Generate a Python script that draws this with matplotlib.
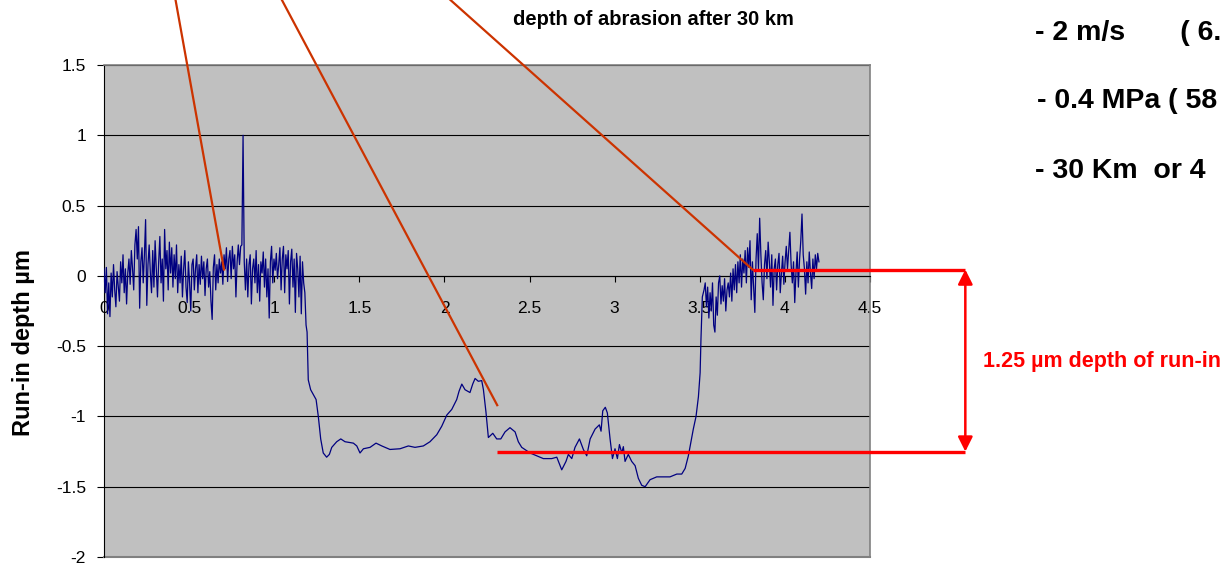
import numpy as np
import matplotlib
matplotlib.use('Agg')
import matplotlib.pyplot as plt

plt.rcParams['font.family'] = ['Liberation Sans', 'DejaVu Sans']

# surface profile, untouched zone before the run-in track (x 0 .. 1.18 mm), in µm
left_y = [0.05, -0.12, 0.06, -0.27, -0.05, -0.29, 0.02, -0.15, 0.08, -0.10,
          -0.22, 0.03, -0.08, -0.18, 0.10, -0.05, 0.15, -0.12, 0.05, -0.20,
          0.02, 0.12, -0.06, 0.18, 0.05, -0.10, 0.22, 0.33, 0.12, 0.35,
          -0.23, 0.10, 0.20, -0.05, 0.15, 0.40, -0.21, 0.08, 0.22, 0.02,
          -0.12, 0.18, -0.08, 0.25, 0.05, -0.15, 0.10, 0.28, -0.05, 0.12,
          -0.18, 0.33, 0.05, 0.18, -0.10, 0.24, 0.02, 0.20, -0.08, 0.15,
          -0.02, 0.22, -0.12, 0.08, -0.05, 0.14, -0.15, 0.05, 0.18, -0.08,
          -0.19, 0.10, -0.05, -0.25, 0.08, 0.12, -0.10, 0.05, 0.15, -0.12,
          0.08, -0.06, 0.14, -0.02, 0.10, -0.14, 0.05, 0.12, -0.08, 0.03,
          -0.18, -0.31, 0.06, 0.15, -0.10, 0.08, -0.05, 0.12, 0.02, 0.10,
          -0.06, 0.15, 0.05, 0.20, -0.04, 0.12, 0.18, -0.02, 0.21, 0.05,
          0.15, -0.15, 0.10, 0.22, 0.08, 0.21, 0.22, 1.00, 0.10, -0.10,
          0.12, -0.15, 0.08, 0.15, -0.20, 0.05, 0.12, -0.05, 0.18, -0.12,
          0.08, -0.18, 0.10, 0.02, 0.17, -0.08, 0.12, -0.15, 0.05, -0.30,
          0.10, 0.21, -0.05, 0.12, 0.04, 0.16, -0.02, 0.08, 0.20, -0.10,
          0.12, 0.21, -0.12, 0.15, 0.05, 0.18, -0.20, 0.10, 0.19, -0.08,
          0.12, -0.26, 0.16, 0.05, -0.15, 0.14, -0.27, 0.10, -0.05, -0.12]
left_start, left_end = 0.0, 1.18

# run-in track
worn_x = [1.187, 1.193, 1.200, 1.214, 1.246, 1.259, 1.273, 1.288, 1.308, 1.324,
          1.338, 1.367, 1.391, 1.416, 1.465, 1.485, 1.504, 1.524, 1.563, 1.598,
          1.632, 1.680, 1.739, 1.788, 1.827, 1.876, 1.915, 1.955, 1.984, 2.014,
          2.043, 2.072, 2.086, 2.102, 2.121, 2.150, 2.166, 2.180, 2.199, 2.219,
          2.229, 2.244, 2.258, 2.284, 2.307, 2.331, 2.356, 2.385, 2.415, 2.434,
          2.454, 2.503, 2.542, 2.581, 2.630, 2.660, 2.689, 2.714, 2.728, 2.748,
          2.767, 2.793, 2.816, 2.836, 2.856, 2.885, 2.910, 2.920, 2.930, 2.945,
          2.957, 2.973, 2.987, 3.002, 3.016, 3.028, 3.042, 3.051, 3.061, 3.080,
          3.100, 3.120, 3.139, 3.159, 3.179, 3.208, 3.247, 3.286, 3.325, 3.365,
          3.394, 3.414, 3.433, 3.447, 3.462, 3.478, 3.492, 3.502, 3.507, 3.515]
worn_y = [-0.35, -0.40, -0.74, -0.81, -0.88, -1.00, -1.16, -1.26, -1.29, -1.27,
          -1.22, -1.18, -1.16, -1.18, -1.19, -1.21, -1.26, -1.23, -1.22, -1.19,
          -1.21, -1.235, -1.23, -1.21, -1.22, -1.21, -1.18, -1.13, -1.07, -0.99,
          -0.95, -0.88, -0.82, -0.77, -0.81, -0.83, -0.77, -0.73, -0.75, -0.745,
          -0.81, -0.97, -1.15, -1.12, -1.16, -1.16, -1.11, -1.08, -1.11, -1.18,
          -1.22, -1.26, -1.28, -1.30, -1.30, -1.29, -1.38, -1.32, -1.27, -1.30,
          -1.22, -1.16, -1.235, -1.28, -1.16, -1.09, -1.06, -1.105, -0.96, -0.935,
          -0.975, -1.16, -1.30, -1.23, -1.30, -1.20, -1.26, -1.215, -1.32, -1.27,
          -1.32, -1.35, -1.44, -1.49, -1.50, -1.45, -1.43, -1.43, -1.43, -1.41,
          -1.41, -1.37, -1.28, -1.19, -1.09, -1.00, -0.86, -0.69, -0.45, -0.15]

# untouched zone after the track (x 3.525 .. 4.20 mm)
right_y = [-0.10, -0.05, -0.22, -0.08, -0.30, -0.12, -0.25, -0.05, -0.35, -0.40,
           -0.15, -0.28, -0.05, 0.00, -0.20, -0.07, -0.18, -0.02, -0.25, -0.10,
           -0.05, -0.15, 0.02, -0.18, 0.05, -0.10, 0.08, -0.12, 0.10, -0.05,
           0.15, -0.08, 0.12, 0.02, 0.18, -0.05, 0.20, 0.06, 0.25, -0.17,
           0.10, -0.08, -0.26, 0.12, 0.30, 0.05, 0.41, 0.15, -0.05, -0.17,
           0.08, 0.18, -0.02, 0.24, 0.10, -0.08, 0.15, -0.21, 0.05, 0.12,
           -0.10, 0.08, 0.16, -0.12, 0.02, 0.14, -0.06, 0.10, 0.21, 0.05,
           0.18, 0.31, 0.08, -0.05, 0.10, -0.19, 0.02, 0.17, -0.08, 0.12,
           0.25, 0.44, 0.15, 0.05, -0.13, 0.10, -0.05, 0.17, 0.02, -0.09,
           0.12, -0.02, 0.15, 0.05, 0.16, 0.10]
right_start, right_end = 3.525, 4.20

x_ticks = [0, 0.5, 1, 1.5, 2, 2.5, 3, 3.5, 4, 4.5]
y_ticks = [-2, -1.5, -1, -0.5, 0, 0.5, 1, 1.5]

# annotation levels (µm) and positions (mm)
level_top = 0.045
level_bottom = -1.25
arrow_x = 5.06
bottom_line_start = 2.31
top_line_start = 3.81
leaders = [((0.42, 1.965), (0.705, 0.045)),
           ((1.044, 1.965), (2.31, -0.92)),
           ((2.033, 1.965), (3.81, 0.045))]

x = np.concatenate([np.linspace(left_start, left_end, len(left_y)),
                    worn_x,
                    np.linspace(right_start, right_end, len(right_y))])
y = np.concatenate([left_y, worn_y, right_y])

fig = plt.figure(figsize=(12.27, 5.65), dpi=100)
ax = fig.add_axes([104 / 1227, 8 / 565, 766 / 1227, 492 / 565])
ax.set_facecolor('#C0C0C0')

ax.plot(x, y, color='#000080', lw=0.9, zorder=3)

ax.set_xlim(0, 4.5)
ax.set_ylim(-2, 1.5)
ax.set_xticks(x_ticks)
ax.set_xticklabels(['0', '0.5', '1', '1.5', '2', '2.5', '3', '3.5', '4', '4.5'])
ax.set_yticks(y_ticks)
ax.set_yticklabels(['-2', '-1.5', '-1', '-0.5', '0', '0.5', '1', '1.5'])
ax.grid(True, axis='y', color='black', lw=0.8)
ax.set_axisbelow(True)

ax.spines['bottom'].set_position(('data', 0))
ax.spines['bottom'].set_color('black')
ax.spines['bottom'].set_linewidth(0.8)
ax.spines['left'].set_color('black')
ax.spines['left'].set_linewidth(0.8)
for s in ['top', 'right']:
    ax.spines[s].set_color('#808080')
    ax.spines[s].set_linewidth(1.2)
ax.axhline(-2, color='#808080', lw=1.5, clip_on=False)

ax.tick_params(axis='x', direction='out', length=4.3, width=0.8, pad=13.5,
               labelsize=12.5, colors='black')
ax.tick_params(axis='y', direction='out', length=5, width=0.8, pad=8,
               labelsize=12.5, colors='black')

# leader lines
for (x0, y0), (x1, y1) in leaders:
    ax.plot([x0, x1], [y0, y1], color='#CC3300', lw=1.6, clip_on=False, zorder=5)

# run-in depth marker
ax.plot([top_line_start, arrow_x], [level_top, level_top], color='#FF0000',
        lw=2.4, clip_on=False, zorder=6, solid_capstyle='butt')
ax.plot([bottom_line_start, arrow_x], [level_bottom, level_bottom], color='#FF0000',
        lw=2.4, clip_on=False, zorder=6, solid_capstyle='butt')
ax.annotate('', xy=(arrow_x, level_top), xytext=(arrow_x, level_bottom),
            arrowprops=dict(arrowstyle='<|-|>', color='#FF0000', lw=1.8,
                            mutation_scale=22, shrinkA=0, shrinkB=0),
            annotation_clip=False, zorder=6)

fig.text(653 / 1227, 1 - 25 / 565, 'depth of abrasion after 30 km',
         ha='center', va='baseline', fontsize=14.5, fontweight='bold')
fig.text(24 / 1227, 1 - 343 / 565, 'Run-in depth µm', rotation=90,
         ha='center', va='center', fontsize=17, fontweight='bold')
fig.text(983 / 1227, 1 - 366.7 / 565, '1.25 µm depth of run-in',
         ha='left', va='baseline', fontsize=15.5, fontweight='bold', color='#FF0000')

fig.text(1035 / 1227, 1 - 40 / 565, '- 2 m/s       ( 6.',
         ha='left', va='baseline', fontsize=20.5, fontweight='bold')
fig.text(1037 / 1227, 1 - 108 / 565, '- 0.4 MPa ( 58',
         ha='left', va='baseline', fontsize=20.5, fontweight='bold')
fig.text(1035 / 1227, 1 - 178 / 565, '- 30 Km  or 4',
         ha='left', va='baseline', fontsize=20.5, fontweight='bold')

fig.savefig('out.png', dpi=100)
